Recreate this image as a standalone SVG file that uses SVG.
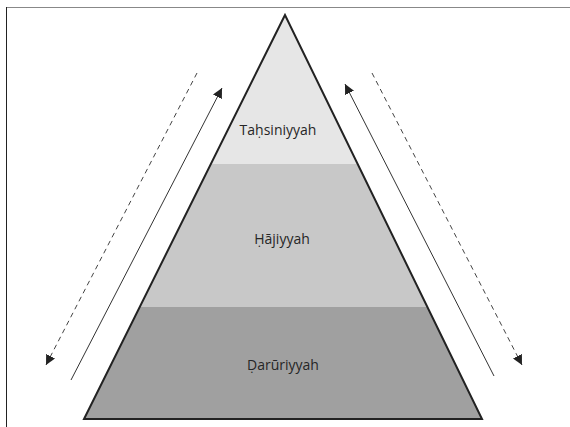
<svg xmlns="http://www.w3.org/2000/svg" width="570" height="427" viewBox="0 0 570 427">
<style>
.lbl{font-family:"Open Sans","Noto Sans","Liberation Sans",sans-serif;font-size:14px;fill:#262626;text-anchor:middle}
.solid{stroke:#333;stroke-width:1;fill:none}
.dash{stroke:#444;stroke-width:1;fill:none;stroke-dasharray:5,4}
</style>
<defs>
<marker id="ah" viewBox="0 0 10 10" refX="10" refY="5" markerWidth="10" markerHeight="10" markerUnits="userSpaceOnUse" orient="auto">
<path d="M0,0 L10,5 L0,10 Z" fill="#222"/>
</marker>
<clipPath id="tri"><polygon points="285,15 84,419 482,419"/></clipPath>
</defs>
<rect width="570" height="427" fill="#fff"/>
<line x1="6" y1="7.5" x2="570" y2="7.5" stroke="#888" stroke-width="1"/>
<line x1="6.5" y1="7" x2="6.5" y2="427" stroke="#222" stroke-width="1"/>
<g id="pyramid">
<g clip-path="url(#tri)">
<rect id="top-band" x="0" y="0" width="570" height="164" fill="#e6e6e6"/>
<rect id="mid-band" x="0" y="164" width="570" height="143" fill="#c8c8c8"/>
<rect id="bot-band" x="0" y="307" width="570" height="120" fill="#a0a0a0"/>
</g>
<polygon points="285,15 84,419 482,419" fill="none" stroke="#222" stroke-width="2" stroke-linejoin="miter"/>
</g>
<g id="tahsiniyyah"><text class="lbl" x="278" y="135">Taḥsiniyyah</text></g>
<g id="hajiyyah"><text class="lbl" x="282" y="244">Ḥājiyyah</text></g>
<g id="daruriyyah"><text class="lbl" x="283" y="370">Ḍarūriyyah</text></g>
<g id="connectors">
<line class="solid" x1="71" y1="380" x2="222" y2="88" marker-end="url(#ah)"/>
<line class="dash" x1="197" y1="73" x2="46" y2="365" marker-end="url(#ah)"/>
<line class="solid" x1="494" y1="376" x2="345" y2="84" marker-end="url(#ah)"/>
<line class="dash" x1="372" y1="73" x2="522" y2="365" marker-end="url(#ah)"/>
</g>
</svg>
